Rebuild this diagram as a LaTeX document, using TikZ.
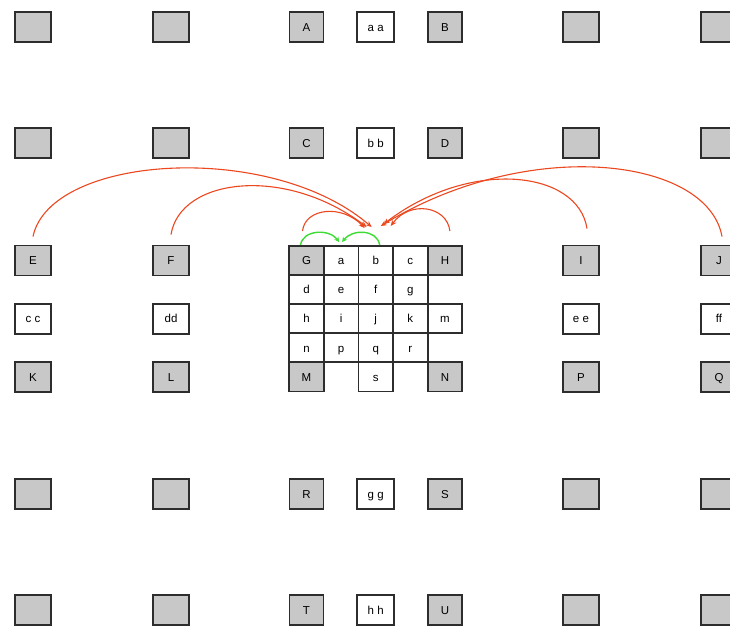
\documentclass[tikz,border=0pt]{standalone}
\usepackage{fontspec}
\setmainfont{Liberation Sans}
\usetikzlibrary{arrows.meta}
\definecolor{boxgray}{RGB}{200,200,200}
\definecolor{edgecol}{RGB}{45,45,45}
\definecolor{arrred}{RGB}{236,72,32}
\definecolor{arrgreen}{RGB}{60,220,50}
\newcommand{\tracked}[1]{{\addfontfeature{LetterSpace=30}#1}}
\begin{document}
\begin{tikzpicture}[x=1pt,y=-1pt,
  box/.style={draw=edgecol, line width=1.8pt, minimum width=36pt, minimum height=30pt, inner sep=0pt, text height=8.4pt, text depth=0pt, font=\fontsize{11.5}{13}\selectfont},
  gbox/.style={box, fill=boxgray},
  wbox/.style={box, fill=white},
  nbox/.style={box, fill=boxgray, minimum width=34pt},
  cell/.style={draw=edgecol, line width=1.8pt, minimum width=34.6pt, minimum height=29.1pt, inner sep=0pt, text height=8.4pt, text depth=0pt, font=\fontsize{11.5}{13}\selectfont},
  gcell/.style={cell, fill=boxgray},
  wcell/.style={cell, fill=white},
  redarrow/.style={draw=arrred, line width=1.1pt, -{Stealth[length=6pt,width=5pt]}},
  greenarrow/.style={draw=arrgreen, line width=1.4pt, -{Stealth[length=5pt,width=5pt]}}
]
\fill[white] (0,0) rectangle (730,628);
\useasboundingbox (0,0) rectangle (730,628);

% row 1
\node[gbox] (u11) at (33,27) {};
\node[gbox] (u12) at (171,27) {};
\node[nbox] (A) at (306.5,27) {A};
\node[wbox, minimum width=37pt] (aa) at (375.7,27) {\tracked{aa}};
\node[nbox] (B) at (445,27) {B};
\node[gbox] (u16) at (581,27) {};
\node[gbox] (u17) at (719,27) {};
% row 2
\node[gbox] (u21) at (33,143) {};
\node[gbox] (u22) at (171,143) {};
\node[nbox] (C) at (306.5,143) {C};
\node[wbox, minimum width=37pt] (bb) at (375.7,143) {\tracked{bb}};
\node[nbox] (D) at (445,143) {D};
\node[gbox] (u26) at (581,143) {};
\node[gbox] (u27) at (719,143) {};
% outer boxes beside the grid
\node[gbox] (E) at (33,260.5) {E};
\node[gbox] (F) at (171,260.5) {F};
\node[gbox] (I) at (581,260.5) {I};
\node[gbox] (J) at (719,260.5) {J};
\node[wbox] (cc) at (33,318.7) {\tracked{cc}};
\node[wbox] (dd) at (171,318.7) {dd};
\node[wbox] (ee) at (581,318.7) {\tracked{ee}};
\node[wbox] (ff) at (719,318.7) {ff};
\node[gbox] (K) at (33,376.9) {K};
\node[gbox] (L) at (171,376.9) {L};
\node[gbox] (P) at (581,376.9) {P};
\node[gbox] (Q) at (719,376.9) {Q};
% grid
\node[gcell] (G) at (306.5,260.5) {G};
\node[wcell] (a) at (341.1,260.5) {a};
\node[wcell] (b) at (375.7,260.5) {b};
\node[wcell] (c) at (410.3,260.5) {c};
\node[gcell] (H) at (444.9,260.5) {H};
\node[wcell] (d) at (306.5,289.6) {d};
\node[wcell] (e) at (341.1,289.6) {e};
\node[wcell] (f) at (375.7,289.6) {f};
\node[wcell] (g) at (410.3,289.6) {g};
\node[wcell] (h) at (306.5,318.7) {h};
\node[wcell] (i) at (341.1,318.7) {i};
\node[wcell] (j) at (375.7,318.7) {j};
\node[wcell] (k) at (410.3,318.7) {k};
\node[wcell] (m) at (444.9,318.7) {m};
\node[wcell] (n) at (306.5,347.8) {n};
\node[wcell] (p) at (341.1,347.8) {p};
\node[wcell] (q) at (375.7,347.8) {q};
\node[wcell] (r) at (410.3,347.8) {r};
\node[gcell] (M) at (306.5,376.9) {M};
\node[wcell] (s) at (375.7,376.9) {s};
\node[gcell] (N) at (444.9,376.9) {N};
% row 6
\node[gbox] (u61) at (33,494) {};
\node[gbox] (u62) at (171,494) {};
\node[nbox] (R) at (306.5,494) {R};
\node[wbox, minimum width=37pt] (gg) at (375.7,494) {\tracked{gg}};
\node[nbox] (S) at (445,494) {S};
\node[gbox] (u66) at (581,494) {};
\node[gbox] (u67) at (719,494) {};
% row 7
\node[gbox] (u71) at (33,610) {};
\node[gbox] (u72) at (171,610) {};
\node[nbox] (T) at (306.5,610) {T};
\node[wbox, minimum width=37pt] (hh) at (375.7,610) {\tracked{hh}};
\node[nbox] (U) at (445,610) {U};
\node[gbox] (u76) at (581,610) {};
\node[gbox] (u77) at (719,610) {};

% red arrows
\draw[redarrow] ([yshift=8pt]E.north) .. controls (50,155) and (270,140) .. ([shift={(-4pt,18pt)}]b.north);
\draw[redarrow] ([yshift=10pt]F.north) .. controls (180,178) and (285,165) .. ([shift={(-9pt,18pt)}]b.north);
\draw[redarrow] ([shift={(-4pt,14pt)}]G.north) .. controls (305,208) and (342,204) .. ([shift={(-11pt,17pt)}]b.north);
\draw[redarrow] ([shift={(5pt,14pt)}]H.north) .. controls (447,206) and (410,200) .. ([shift={(15pt,19pt)}]b.north);
\draw[redarrow] ([shift={(6pt,16pt)}]I.north) .. controls (578,170) and (470,158) .. ([shift={(8pt,21pt)}]b.north);
\draw[redarrow] ([shift={(3pt,8pt)}]J.north) .. controls (708,158) and (530,135) .. ([shift={(5pt,19pt)}]b.north);

% green arrows
\draw[greenarrow] ([xshift=-6pt]G.north) .. controls (303,229) and (330,229) .. ([shift={(-2pt,3pt)}]a.north);
\draw[greenarrow] ([xshift=4pt]b.north) .. controls (377,229) and (352,229) .. ([shift={(1pt,3pt)}]a.north);
\end{tikzpicture}
\end{document}
